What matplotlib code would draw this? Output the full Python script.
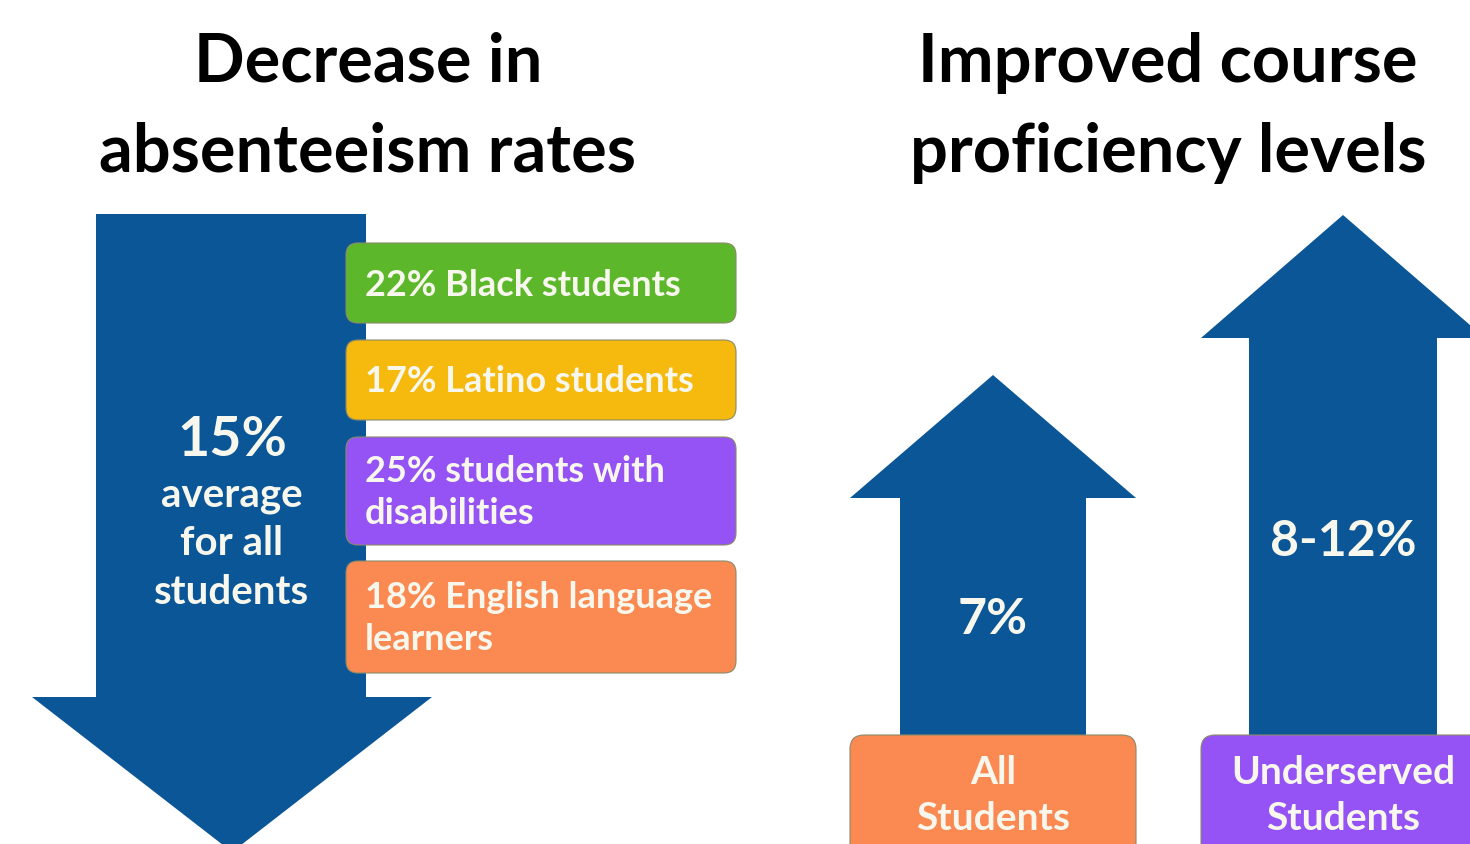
import matplotlib
matplotlib.use("Agg")
import matplotlib.pyplot as plt
from matplotlib.patches import Polygon, FancyBboxPatch

# ---- data ----
title_left = ["Decrease in", "absenteeism rates"]
title_right = ["Improved course", "proficiency levels"]
overall_label = "15%"
overall_sub = ["average", "for all", "students"]
group_values = [22, 17, 25, 18]
group_names = ["Black students", "Latino students", "students with\ndisabilities", "English language\nlearners"]
group_colors = ["#5cb82a", "#f6b90e", "#9552f5", "#fb8a52"]
prof_labels = ["7%", "8-12%"]
prof_groups = ["All\nStudents", "Underserved\nStudents"]
prof_colors = ["#fb8a52", "#9552f5"]

BLUE = "#0b5696"
TXT = "#f7f7ee"
FONT = ["Lato", "DejaVu Sans"]

fig = plt.figure(figsize=(14.7, 8.44), dpi=100)
ax = fig.add_axes([0, 0, 1, 1])
ax.set_xlim(0, 1470)
ax.set_ylim(844, 0)
ax.axis("off")

# titles
for i, (l, r) in enumerate(zip(title_left, title_right)):
    ax.text(368, 63 + 90 * i, l, ha="center", va="center", fontsize=48, fontweight="bold",
            family=FONT, color="black")
    ax.text(1168, 63 + 90 * i, r, ha="center", va="center", fontsize=48, fontweight="bold",
            family=FONT, color="black")

# down arrow
down = Polygon([(96, 214), (366, 214), (366, 697), (432, 697), (232, 852),
                (32, 697), (96, 697)], closed=True, facecolor=BLUE, edgecolor="none", zorder=1)
ax.add_patch(down)
ax.text(232, 440, overall_label, ha="center", va="center", fontsize=40, fontweight="bold",
        family=FONT, color=TXT, zorder=3)
for i, s in enumerate(overall_sub):
    ax.text(232, 495 + 48.5 * i, s, ha="center", va="center", fontsize=29, fontweight="bold",
            family=FONT, color=TXT, zorder=3)

# group boxes
box_y = [(243, 323), (340, 420), (437, 545), (561, 673)]
for (y0, y1), v, n, c in zip(box_y, group_values, group_names, group_colors):
    p = FancyBboxPatch((346, y0), 390, y1 - y0, boxstyle="round,pad=0,rounding_size=12",
                       facecolor=c, edgecolor="#8a8a6a", linewidth=0.8, zorder=2)
    ax.add_patch(p)
    lines = f"{v}% {n}".split("\n")
    gap = 42
    start = (y0 + y1) / 2 + 2 - gap * (len(lines) - 1) / 2
    for k, ln in enumerate(lines):
        ax.text(365, start + gap * k, ln, ha="left", va="center", fontsize=26,
                fontweight="bold", family=FONT, color=TXT, zorder=3)

# up arrows
arrows = [
    dict(cx=993, half_shaft=93, half_head=143, tip=375, neck=498),
    dict(cx=1343, half_shaft=94, half_head=142, tip=215, neck=338),
]
label_y = [620, 541]
for a, lab, ly, g, c in zip(arrows, prof_labels, label_y, prof_groups, prof_colors):
    cx, hs, hh = a["cx"], a["half_shaft"], a["half_head"]
    poly = Polygon([(cx - hs, 760), (cx - hs, a["neck"]), (cx - hh, a["neck"]), (cx, a["tip"]),
                    (cx + hh, a["neck"]), (cx + hs, a["neck"]), (cx + hs, 760)],
                   closed=True, facecolor=BLUE, edgecolor="none", zorder=1)
    ax.add_patch(poly)
    ax.text(cx, ly, lab, ha="center", va="center", fontsize=36, fontweight="bold",
            family=FONT, color=TXT, zorder=3)
    p = FancyBboxPatch((cx - hh, 735), 2 * hh, 140, boxstyle="round,pad=0,rounding_size=14",
                       facecolor=c, edgecolor="#8a8a6a", linewidth=0.8, zorder=2)
    ax.add_patch(p)
    for k, ln in enumerate(g.split("\n")):
        ax.text(cx, 772 + 46 * k, ln, ha="center", va="center", fontsize=28, fontweight="bold",
                family=FONT, color=TXT, zorder=3)

fig.savefig("out.png", dpi=100, facecolor="white")
